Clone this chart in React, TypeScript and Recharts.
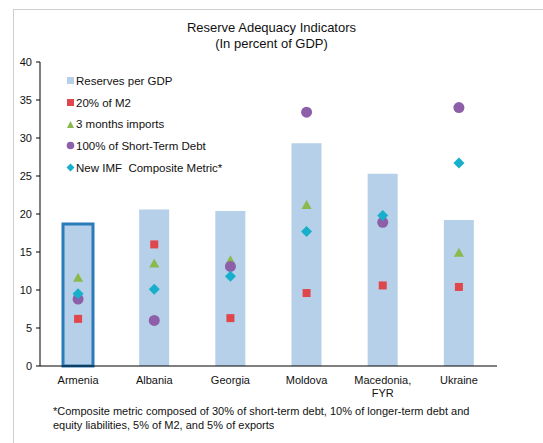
import { ComposedChart, Bar, Cell, Scatter, XAxis, YAxis } from "recharts";

const countries = ["Armenia", "Albania", "Georgia", "Moldova", "Macedonia, FYR", "Ukraine"];
const reserves = [18.7, 20.6, 20.4, 29.3, 25.3, 19.2];
const m2 = [6.2, 16.0, 6.3, 9.6, 10.6, 10.4];
const imports3m = [11.6, 13.5, 13.9, 21.2, null, 14.9];
const shortTermDebt = [8.8, 6.0, 13.1, 33.4, 18.9, 34.0];
const imfMetric = [9.5, 10.1, 11.8, 17.7, 19.8, 26.7];
const yTicks = [0, 5, 10, 15, 20, 25, 30, 35, 40];

const data = countries.map((name, i) => ({
  name,
  reserves: reserves[i],
  m2: m2[i],
  imports3m: imports3m[i],
  debt: shortTermDebt[i],
  imf: imfMetric[i],
}));

const FONT = "'Liberation Sans', Arial, sans-serif";
const BAR = "#b5d0e8";
const RED = "#e0474c";
const GREEN = "#8cb84c";
const PURPLE = "#8c5fa8";
const TEAL = "#17afcb";

const ok = (p: any) => Number.isFinite(p.cx) && Number.isFinite(p.cy) && p.payload && p.payload[p.dk] != null;

const Square = (p: any) =>
  ok(p) ? <rect x={p.cx - 4} y={p.cy - 4} width={8} height={8} fill={RED} /> : <g />;
const Triangle = (p: any) =>
  ok(p) ? (
    <polygon points={`${p.cx},${p.cy - 5} ${p.cx - 5},${p.cy + 4} ${p.cx + 5},${p.cy + 4}`} fill={GREEN} />
  ) : (
    <g />
  );
const Circle = (p: any) => (ok(p) ? <circle cx={p.cx} cy={p.cy} r={5.5} fill={PURPLE} /> : <g />);
const Diamond = (p: any) =>
  ok(p) ? (
    <polygon
      points={`${p.cx},${p.cy - 5.5} ${p.cx + 5.5},${p.cy} ${p.cx},${p.cy + 5.5} ${p.cx - 5.5},${p.cy}`}
      fill={TEAL}
    />
  ) : (
    <g />
  );

const legendItems = [
  { label: "Reserves per GDP", icon: <rect x={0} y={1} width={7} height={7} fill={BAR} /> },
  { label: "20% of M2", icon: <rect x={0} y={1} width={7} height={7} fill={RED} /> },
  { label: "3 months imports", icon: <polygon points="3.5,1 0,8 7,8" fill={GREEN} /> },
  { label: "100% of Short-Term Debt", icon: <circle cx={3.5} cy={4.5} r={3.8} fill={PURPLE} /> },
  { label: "New IMF  Composite Metric*", icon: <polygon points="3.5,0.5 7.5,4.5 3.5,8.5 -0.5,4.5" fill={TEAL} /> },
];

const LegendBox = () => (
  <div style={{ fontFamily: FONT, fontSize: 11.5, color: "#111", whiteSpace: "pre" }}>
    {legendItems.map((it) => (
      <div key={it.label} style={{ height: 21.7, display: "flex", alignItems: "center" }}>
        <svg width={8} height={9} style={{ marginRight: 1, overflow: "visible" }}>
          {it.icon}
        </svg>
        <span>{it.label}</span>
      </div>
    ))}
  </div>
);

const CategoryTick = (p: any) => {
  const v: string = p.payload.value;
  const parts = v.includes(",") ? [v.slice(0, v.indexOf(",") + 1), v.slice(v.indexOf(",") + 2)] : [v];
  return (
    <text x={p.x} y={p.y} textAnchor="middle" fontFamily={FONT} fontSize={11} fill="#111">
      {parts.map((s, i) => (
        <tspan key={i} x={p.x} dy={i === 0 ? 10 : 13}>
          {s}
        </tspan>
      ))}
    </text>
  );
};

export default function App() {
  return (
    <div style={{ position: "absolute", left: 0, top: 0, width: 543, height: 443, overflow: "hidden", background: "#fff" }}>
      <div
        style={{
          position: "absolute",
          left: 13,
          top: 9,
          width: 530,
          height: 434,
          borderTop: "1px solid #cfcfcf",
          borderLeft: "1px solid #cfcfcf",
          boxSizing: "border-box",
        }}
      />
      <div
        style={{
          position: "absolute",
          left: 0,
          top: 20,
          width: 543,
          textAlign: "center",
          fontFamily: FONT,
          fontSize: 13,
          lineHeight: "16px",
          color: "#111",
        }}
      >
        Reserve Adequacy Indicators
        <br />
        (In percent of GDP)
      </div>
      <div style={{ position: "absolute", left: 0, top: 0 }}>
        <ComposedChart
          width={543}
          height={443}
          data={data}
          margin={{ top: 62, right: 46, bottom: 0, left: 0 }}
        >
          <XAxis
            dataKey="name"
            height={77}
            axisLine={{ stroke: "#000" }}
            tickLine={false}
            tick={<CategoryTick />}
            interval={0}
          />
          <XAxis xAxisId="top" dataKey="name" orientation="top" height={0} tick={false} tickLine={false} axisLine={{ stroke: "#000" }} />
          <YAxis
            width={40}
            domain={[0, 40]}
            ticks={yTicks}
            interval={0}
            axisLine={{ stroke: "#000" }}
            tickLine={{ stroke: "#000" }}
            tickSize={4}
            tickMargin={4}
            tick={{ fontFamily: FONT, fontSize: 11, fill: "#111" }}
          />
          <YAxis yAxisId="right" orientation="right" width={0} domain={[0, 40]} tick={false} tickLine={false} axisLine={{ stroke: "#000" }} />
          <Bar dataKey="reserves" fill={BAR} barSize={30} isAnimationActive={false}>
            {data.map((d, i) => (
              <Cell key={d.name} fill={BAR} stroke={i === 0 ? "#2a7bba" : "none"} strokeWidth={i === 0 ? 3 : 0} />
            ))}
          </Bar>
          <Scatter dataKey="m2" shape={(p: any) => <Square {...p} dk="m2" />} isAnimationActive={false} />
          <Scatter dataKey="imports3m" shape={(p: any) => <Triangle {...p} dk="imports3m" />} isAnimationActive={false} />
          <Scatter dataKey="debt" shape={(p: any) => <Circle {...p} dk="debt" />} isAnimationActive={false} />
          <Scatter dataKey="imf" shape={(p: any) => <Diamond {...p} dk="imf" />} isAnimationActive={false} />
        </ComposedChart>
      </div>
      <div style={{ position: "absolute", left: 67, top: 70 }}>
        <LegendBox />
      </div>
      <div
        style={{
          position: "absolute",
          left: 53,
          top: 404,
          width: 435,
          fontFamily: FONT,
          fontSize: 11,
          lineHeight: "14px",
          color: "#111",
        }}
      >
        *Composite metric composed of 30% of short-term debt, 10% of longer-term debt and equity liabilities, 5% of M2, and 5% of exports
      </div>
    </div>
  );
}
